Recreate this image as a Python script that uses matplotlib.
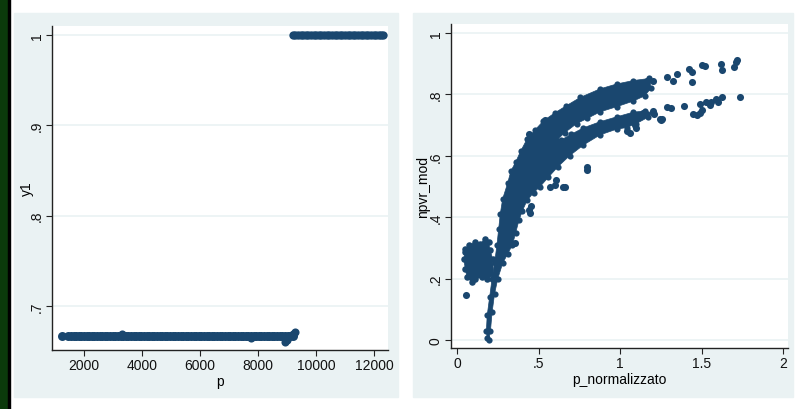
import numpy as np
import matplotlib.pyplot as plt
from matplotlib.patches import Rectangle, Polygon

plt.rcParams['font.family'] = ['Liberation Sans Narrow', 'Liberation Sans', 'DejaVu Sans']

navy = '#1a476f'
panel = '#eaf2f3'

# ---- left graph: y1 against p ----
p_low = [1240, 1460, 1550, 1640, 1730, 1820, 1910, 2000, 2090, 2180, 2270, 2360, 2450,
         2540, 2630, 2720, 2810, 2900, 2990, 3080, 3170, 3260, 3350, 3440, 3530,
         3620, 3710, 3800, 3890, 3980, 4070, 4160, 4250, 4340, 4430, 4520, 4610,
         4700, 4790, 4880, 4970, 5060, 5150, 5240, 5330, 5420, 5510, 5600, 5690,
         5780, 5870, 5960, 6050, 6140, 6230, 6320, 6410, 6500, 6590, 6680, 6770,
         6860, 6950, 7040, 7130, 7220, 7310, 7400, 7490, 7580, 7670, 7760, 7850,
         7940, 8030, 8120, 8210, 8300, 8390, 8480, 8570, 8660, 8750, 8840, 8930,
         9020, 9110, 9200]
y1_low = 0.667
p_odd = [3300, 7750, 8930, 9000, 9220, 9260]
y1_odd = [0.669, 0.664, 0.660, 0.662, 0.669, 0.671]
p_high = [9200, 9290, 9380, 9470, 9560, 9650, 9740, 9830, 9920, 10010, 10100, 10190,
          10280, 10370, 10460, 10550, 10640, 10730, 10820, 10910, 11000, 11090,
          11180, 11270, 11360, 11450, 11540, 11630, 11720, 11810, 11900, 11990,
          12080, 12170, 12260, 12300]
y1_high = 1.0

# ---- right graph: npvr_mod against p_normalizzato ----
# outline of the dense cloud (trunk + two branches)
cloud_x = [0.195, 0.205, 0.215, 0.23, 0.25, 0.28, 0.31, 0.34, 0.36, 0.38, 0.40, 0.43,
           0.47, 0.51, 0.56, 0.62, 0.69, 0.775, 0.877, 0.98, 1.04, 1.10, 1.17, 1.20,
           1.15, 1.08, 0.98, 0.877, 0.775, 0.70, 0.64, 0.61,
           0.66, 0.734, 0.80, 0.877, 0.98, 1.08, 1.15, 1.19,
           1.18, 1.08, 0.98, 0.877, 0.755, 0.67, 0.60, 0.53, 0.48, 0.43, 0.39, 0.36,
           0.33, 0.31, 0.28, 0.265, 0.255, 0.245, 0.23, 0.215, 0.20, 0.185, 0.18, 0.185]
cloud_y = [0.00, 0.03, 0.09, 0.15, 0.20, 0.25, 0.28, 0.31, 0.35, 0.39, 0.42, 0.455,
           0.48, 0.50, 0.53, 0.565, 0.60, 0.635, 0.668, 0.687, 0.692, 0.705, 0.725, 0.74,
           0.746, 0.742, 0.727, 0.711, 0.691, 0.670, 0.652, 0.650,
           0.675, 0.705, 0.722, 0.743, 0.760, 0.778, 0.795, 0.82,
           0.852, 0.845, 0.834, 0.818, 0.79, 0.763, 0.74, 0.714, 0.685, 0.655, 0.615, 0.58,
           0.55, 0.51, 0.46, 0.41, 0.36, 0.31, 0.25, 0.20, 0.14, 0.08, 0.03, 0.005]
# outline of the small cluster on the left
blob_x = [0.051, 0.071, 0.112, 0.142, 0.173, 0.193, 0.203, 0.219, 0.224, 0.183,
          0.152, 0.112, 0.092, 0.061, 0.051, 0.041, 0.051]
blob_y = [0.297, 0.308, 0.319, 0.314, 0.330, 0.319, 0.292, 0.264, 0.21, 0.199,
          0.204, 0.199, 0.188, 0.204, 0.231, 0.264, 0.286]
# single observations away from the cloud
pn_out = [0.055, 0.356, 0.44, 0.455, 0.45, 0.44, 0.445, 0.54, 0.57, 0.60, 0.61, 0.65,
          0.66, 0.80, 0.795, 1.04, 1.06, 1.09, 1.10, 1.245, 1.25,
          1.13, 1.165, 1.20, 1.29, 1.325, 1.35, 1.42, 1.44, 1.44, 1.50, 1.52, 1.62,
          1.625, 1.71, 1.70, 1.72,
          1.14, 1.20, 1.21, 1.26, 1.29, 1.31, 1.39, 1.45, 1.47, 1.49, 1.49, 1.50,
          1.53, 1.55, 1.56, 1.59, 1.60, 1.625, 1.735]
npvr_out = [0.147, 0.315, 0.425, 0.435, 0.415, 0.67, 0.655, 0.715, 0.50, 0.505, 0.52, 0.50,
            0.50, 0.565, 0.555, 0.68, 0.675, 0.70, 0.69, 0.72, 0.715,
            0.81, 0.845, 0.845, 0.857, 0.845, 0.866, 0.883, 0.873, 0.84, 0.896, 0.893, 0.90,
            0.88, 0.905, 0.89, 0.912,
            0.74, 0.745, 0.735, 0.72, 0.76, 0.755, 0.763, 0.735, 0.733, 0.74, 0.77, 0.75,
            0.776, 0.765, 0.775, 0.785, 0.775, 0.79, 0.79]

fig = plt.figure(figsize=(7.95, 4.1), dpi=100)
fig.patch.set_facecolor('white')

# page edge on the left
fig.patches.append(Rectangle((0, 0), 0.010, 1, transform=fig.transFigure, color='#0b3a0b', zorder=-2))
fig.patches.append(Rectangle((0.010, 0), 0.003, 1, transform=fig.transFigure, color='black', zorder=-2))
# graph regions
fig.patches.append(Rectangle((0.0176, 0.0293), 0.483, 0.937, transform=fig.transFigure, color=panel, zorder=-2))
fig.patches.append(Rectangle((0.5195, 0.0293), 0.478, 0.937, transform=fig.transFigure, color=panel, zorder=-2))


def stata_axes(ax):
    ax.set_zorder(1)
    ax.set_facecolor('white')
    for s in ['top', 'right']:
        ax.spines[s].set_visible(False)
    for s in ['left', 'bottom']:
        ax.spines[s].set_color('#222222')
        ax.spines[s].set_linewidth(1.0)
    ax.tick_params(direction='out', length=4, width=0.8, color='#222222',
                   labelsize=10, labelcolor='#111111', pad=2)
    ax.tick_params(axis='y', labelrotation=90)
    for lab in ax.get_yticklabels():
        lab.set_va('center')
    ax.grid(axis='y', color=panel, linewidth=1.2)
    ax.set_axisbelow(True)


ax1 = fig.add_axes([0.0654, 0.1439, 0.4226, 0.790])
ax1.scatter(p_low, np.full(len(p_low), y1_low), s=42, color=navy, linewidths=0)
ax1.scatter(p_odd, y1_odd, s=34, color=navy, linewidths=0)
ax1.scatter(p_high, np.full(len(p_high), y1_high), s=36, color=navy, linewidths=0)
ax1.set_xlim(897, 12483)
ax1.set_ylim(0.651, 1.010)
ax1.set_xticks([2000, 4000, 6000, 8000, 10000, 12000])
ax1.set_yticks([0.7, 0.8, 0.9, 1.0])
ax1.set_yticklabels(['.7', '.8', '.9', '1'])
ax1.set_xlabel('p', fontsize=10, labelpad=1)
ax1.set_ylabel('y1', fontsize=10)
ax1.yaxis.set_label_coords(-0.055, 0.5)
stata_axes(ax1)

ax2 = fig.add_axes([0.5673, 0.1488, 0.4239, 0.790])
ax2.add_patch(Polygon(np.column_stack([cloud_x, cloud_y]), closed=True,
                      facecolor=navy, edgecolor=navy, linewidth=0.5))
ax2.add_patch(Polygon(np.column_stack([blob_x, blob_y]), closed=True,
                      facecolor=navy, edgecolor=navy, linewidth=0.5))
ax2.scatter(cloud_x, cloud_y, s=20, color=navy, linewidths=0)
ax2.scatter(blob_x, blob_y, s=22, color=navy, linewidths=0)
ax2.scatter(pn_out, npvr_out, s=26, color=navy, linewidths=0)
ax2.set_xlim(-0.037, 2.03)
ax2.set_ylim(-0.026, 1.029)
ax2.set_xticks([0, 0.5, 1, 1.5, 2])
ax2.set_xticklabels(['0', '.5', '1', '1.5', '2'])
ax2.set_yticks([0, 0.2, 0.4, 0.6, 0.8, 1.0])
ax2.set_yticklabels(['0', '.2', '.4', '.6', '.8', '1'])
ax2.set_xlabel('p_normalizzato', fontsize=10, labelpad=1)
ax2.set_ylabel('npvr_mod', fontsize=10)
ax2.yaxis.set_label_coords(-0.062, 0.5)
stata_axes(ax2)

fig.savefig('out.png', dpi=100)
